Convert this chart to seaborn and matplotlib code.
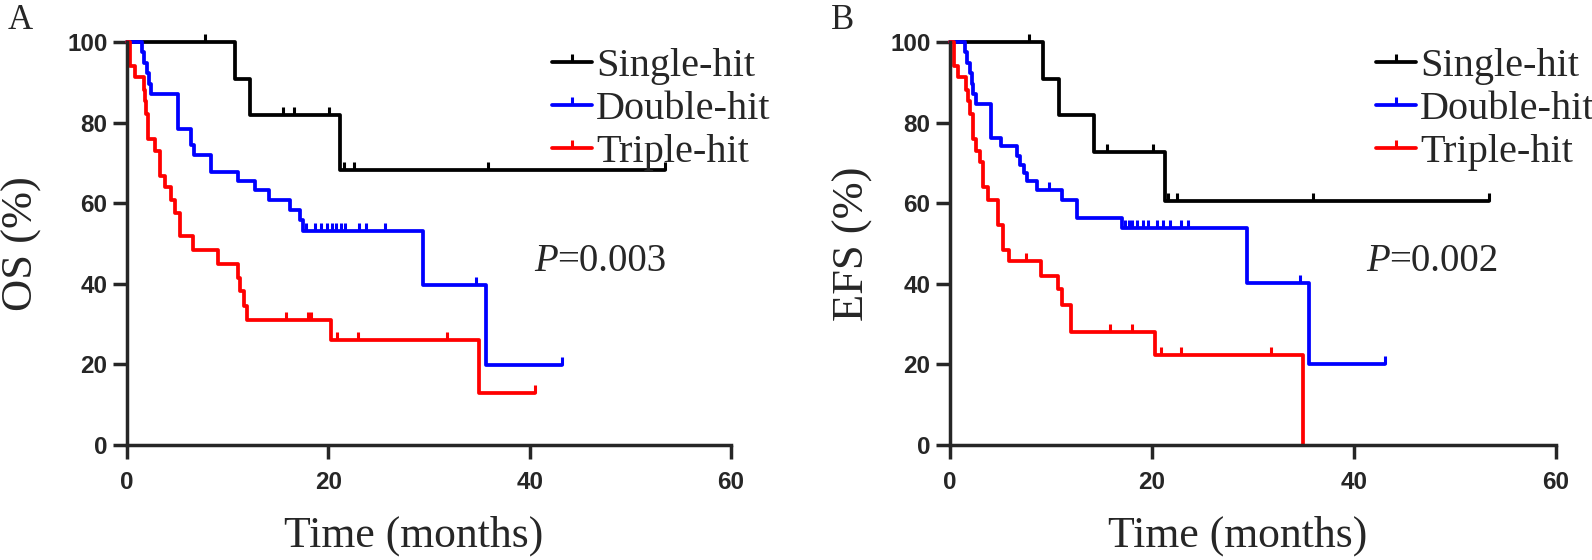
import numpy as np
import pandas as pd
import matplotlib
matplotlib.use("Agg")
import matplotlib.pyplot as plt
from matplotlib.lines import Line2D
import seaborn as sns

# --- dane (czas w miesiącach, przeżycie w %) ---
groups = ["Single-hit", "Double-hit", "Triple-hit"]
colors = ["black", "blue", "red"]

# OS
os_single_t = [0, 10.7, 12.2, 21.2, 53.4]
os_single_s = [100, 90.9, 81.8, 68.2, 68.2]
os_single_c = [7.7, 15.5, 16.6, 20.1, 21.6, 22.5, 35.9, 53.4]

os_double_t = [0, 1.5, 1.7, 2.0, 2.2, 2.4, 5.1, 6.4, 6.7, 8.3, 11.0, 12.7, 14.1,
               16.2, 17.2, 17.5, 29.4, 35.7, 43.2]
os_double_s = [100, 97.4, 94.9, 92.3, 89.7, 87.2, 78.4, 74.5, 72.0, 67.8, 65.5, 63.2, 60.7,
               58.3, 55.8, 53.1, 39.8, 19.9, 19.9]
os_double_c = [17.8, 18.7, 19.3, 19.9, 20.4, 20.8, 21.3, 21.7, 23.0, 23.7, 25.6, 34.7, 43.2]

os_triple_t = [0, 0.3, 0.8, 1.7, 1.8, 1.9, 2.1, 2.8, 3.3, 3.8, 4.4, 4.8, 5.3, 6.6,
               9.0, 11.0, 11.2, 11.6, 11.9, 20.3, 35.0, 40.5]
os_triple_s = [100, 94.1, 91.2, 88.2, 85.3, 82.1, 75.9, 73.0, 66.7, 63.9, 60.9, 57.6, 51.8, 48.5,
               44.9, 41.5, 38.1, 34.4, 31.1, 26.0, 13.0, 13.0]
os_triple_c = [15.8, 18.0, 18.3, 20.9, 22.9, 31.8, 40.5]

# EFS
efs_single_t = [0, 9.2, 10.8, 14.3, 21.3, 53.4]
efs_single_s = [100, 90.9, 81.8, 72.7, 60.6, 60.6]
efs_single_c = [7.8, 15.6, 20.1, 21.6, 22.5, 36.0, 53.4]

efs_double_t = [0, 1.5, 1.7, 2.0, 2.2, 2.3, 2.6, 4.1, 5.1, 6.6, 6.9, 7.3, 7.6, 8.6,
                11.1, 12.6, 17.0, 29.4, 35.6, 43.1]
efs_double_s = [100, 97.4, 94.9, 92.3, 89.7, 87.2, 84.6, 76.3, 74.2, 71.7, 69.6, 67.6, 65.5, 63.2,
                60.9, 56.4, 53.9, 40.3, 20.2, 20.2]
efs_double_c = [9.8, 17.3, 17.7, 18.0, 18.5, 19.1, 19.6, 20.5, 21.1, 21.8, 22.9, 23.6, 34.7, 43.1]

efs_triple_t = [0, 0.4, 0.8, 1.6, 1.8, 2.0, 2.3, 2.6, 3.0, 3.3, 3.8, 4.8, 5.3, 5.8,
                9.0, 10.7, 11.1, 12.0, 20.3, 35.0]
efs_triple_s = [100, 94.1, 91.2, 88.2, 85.3, 82.1, 75.9, 73.0, 70.1, 63.9, 60.9, 54.7, 48.5, 45.6,
                41.9, 38.6, 34.8, 28.0, 22.4, 0]
efs_triple_c = [7.5, 15.8, 18.0, 20.9, 22.9, 31.8]

x_ticks = [0, 20, 40, 60]
y_ticks = [0, 20, 40, 60, 80, 100]

panels = [
    dict(letter="A", ylabel="OS (%)", ypad=18, p_val="=0.003", p_xy=(40.4, 45.5),
         curves=[(os_single_t, os_single_s, os_single_c),
                 (os_double_t, os_double_s, os_double_c),
                 (os_triple_t, os_triple_s, os_triple_c)]),
    dict(letter="B", ylabel="EFS (%)", ypad=12, p_val="=0.002", p_xy=(41.2, 45.5),
         curves=[(efs_single_t, efs_single_s, efs_single_c),
                 (efs_double_t, efs_double_s, efs_double_c),
                 (efs_triple_t, efs_triple_s, efs_triple_c)]),
]

sns.set_style("ticks")
plt.rcParams["font.family"] = ["Liberation Serif", "DejaVu Serif"]
plt.rcParams["axes.linewidth"] = 2.5

tick_up = [(0, 0), (0, 1)]  # znacznik cenzurowania: kreska w górę

fig = plt.figure(figsize=(15.92, 5.6), dpi=100)
axes_pos = [[0.0798, 0.2054, 0.3794, 0.7196], [0.5967, 0.2054, 0.3806, 0.7196]]

for pos, pan in zip(axes_pos, panels):
    ax = fig.add_axes(pos)
    rows = []
    for g, (ts, ss, cs) in zip(groups, pan["curves"]):
        rows += [dict(t=t, s=s, group=g) for t, s in zip(ts, ss)]
    df = pd.DataFrame(rows)
    sns.lineplot(data=df, x="t", y="s", hue="group", hue_order=groups, palette=colors,
                 estimator=None, drawstyle="steps-post", linewidth=2.7, legend=False,
                 clip_on=False, ax=ax)
    for col, (ts, ss, cs) in zip(colors, pan["curves"]):
        idx = np.searchsorted(ts, cs, side="right") - 1
        cy = np.array(ss)[idx]
        ax.plot(cs, cy, linestyle="none", marker=tick_up, markersize=11,
                markeredgewidth=2.2, color=col, clip_on=False)

    ax.set_xlim(0, 60)
    ax.set_ylim(0, 100)
    ax.set_xticks(x_ticks)
    ax.set_yticks(y_ticks)
    sns.despine(ax=ax)
    ax.tick_params(length=10, width=2.5, direction="out")
    ax.tick_params(axis="x", pad=9)
    ax.tick_params(axis="y", pad=4)
    for lab in ax.get_xticklabels() + ax.get_yticklabels():
        lab.set_fontfamily("Liberation Sans")
        lab.set_fontweight("bold")
        lab.set_fontsize(17.5)
    ax.set_xlabel("Time (months)", fontsize=31.5)
    ax.xaxis.set_label_coords(0.474, -0.175)
    ax.set_ylabel(pan["ylabel"], fontsize=32, labelpad=pan["ypad"])

    ax.text(pan["p_xy"][0], pan["p_xy"][1], "P", fontsize=28, va="center",
            ha="left", style="italic")
    ax.annotate(pan["p_val"], xy=pan["p_xy"], xytext=(17, 0), textcoords="offset points",
                fontsize=28, va="center", ha="left")

    handles = [Line2D([0], [0], color=c, linewidth=2.7, marker=tick_up, markersize=11,
                      markeredgewidth=2.2) for c in colors]
    ax.legend(handles, groups, loc="upper left", bbox_to_anchor=(0.67, 1.035),
              frameon=False, fontsize=29, handlelength=1.0, handletextpad=0.1,
              labelspacing=0.14, borderpad=0, numpoints=1)

    fig.text(pos[0] - 0.075, 0.963, pan["letter"], fontsize=25, va="center", ha="left")

fig.savefig("out.png", dpi=100)
